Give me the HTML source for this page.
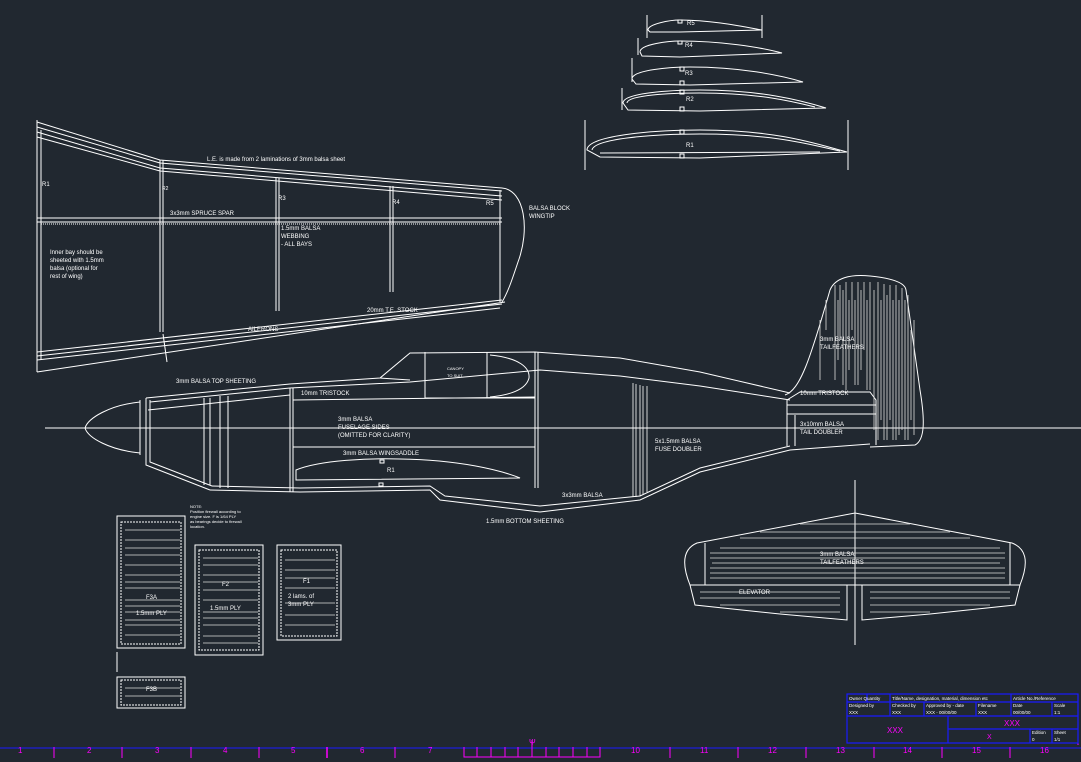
<!DOCTYPE html>
<html><head><meta charset="utf-8"><style>
html,body{margin:0;padding:0;background:#212830;}
svg{display:block;}
text{font-family:"Liberation Sans",sans-serif;fill:#fff;font-size:6px;}
</style></head><body>
<svg width="1081" height="762" viewBox="0 0 1081 762" xmlns="http://www.w3.org/2000/svg">
<rect width="1081" height="762" fill="#212830"/>
<g stroke="#fff" stroke-width="1" fill="none">
<line x1="45" y1="428" x2="1081" y2="428"/>
<line x1="855" y1="480" x2="855" y2="645"/>
<line x1="585" y1="120" x2="585" y2="170"/><line x1="848" y1="120" x2="848" y2="170"/>
<path d="M587,150 C587,136 650,130 700,130 C780,130 820,145 847,152 L700,158 L600,157 Z"/>
<path d="M592,150 C594,139 650,134 700,134 C780,134 815,146 840,151"/>
<line x1="600" y1="153" x2="820" y2="152"/>
<rect x="680" y="130" width="4" height="4"/><rect x="680" y="154" width="4" height="4"/>
<line x1="622" y1="88" x2="622" y2="110"/>
<path d="M623,103 C623,93 670,90 700,90 C760,90 800,100 826,108 L700,111 L628,110 Z"/>
<path d="M627,103 C628,95 670,93 700,93 C760,93 795,102 815,107"/>
<rect x="680" y="90" width="4" height="4"/><rect x="680" y="107" width="4" height="4"/>
<line x1="632" y1="58" x2="632" y2="82"/>
<path d="M632,79 C632,70 670,67 690,67 C740,67 780,75 803,82 L690,85 L636,84 Z"/>
<rect x="680" y="67" width="4" height="4"/><rect x="680" y="81" width="4" height="4"/>
<line x1="638" y1="38" x2="638" y2="55"/>
<path d="M640,52 C640,44 670,41 680,41 C720,41 760,47 782,53 L680,57 L642,56 Z"/>
<rect x="678" y="41" width="4" height="3"/>
<line x1="647" y1="15" x2="647" y2="38"/><line x1="762" y1="15" x2="762" y2="38"/>
<path d="M648,30 C648,24 670,20 680,20 C710,20 740,26 762,30 L680,32 L650,32 Z"/>
<rect x="678" y="20" width="4" height="3"/>
<line x1="37" y1="120" x2="37" y2="372"/>
<line x1="41" y1="130" x2="41" y2="360"/>
<polyline points="37,122 160,160 502,188"/>
<polyline points="37,127 160,163 502,191"/>
<polyline points="37,132 160,168 502,196"/>
<polyline points="37,137 160,171 502,200"/>
<path d="M502,188 C525,190 530,230 518,262 C512,280 508,292 502,302"/>
<line x1="37" y1="218" x2="502" y2="218"/><line x1="37" y1="222" x2="502" y2="222"/>
<line x1="41" y1="224" x2="500" y2="224" stroke-dasharray="1,1"/>
<line x1="160" y1="160" x2="160" y2="332"/><line x1="163" y1="160" x2="163" y2="332"/>
<line x1="276" y1="178" x2="276" y2="311"/><line x1="279" y1="178" x2="279" y2="311"/>
<line x1="390" y1="186" x2="390" y2="292"/><line x1="393" y1="186" x2="393" y2="292"/>
<line x1="500" y1="190" x2="500" y2="302"/>
<line x1="37" y1="352" x2="502" y2="300"/>
<line x1="37" y1="356" x2="502" y2="304"/>
<line x1="37" y1="360" x2="500" y2="308"/>
<line x1="37" y1="372" x2="505" y2="302"/>
<line x1="163" y1="334" x2="167" y2="362"/>
<path d="M140,402 C110,405 88,418 85,428 C88,438 110,450 140,453"/>
<line x1="140" y1="400" x2="140" y2="455"/>
<polyline points="146,398 146,465 210,490"/>
<polyline points="150,400 150,462 212,486"/>
<polyline points="146,398 290,384 380,378 410,353 535,352 620,358 700,372 790,393"/>
<polyline points="150,402 290,388 410,382 540,370 620,376 700,386 790,400"/>
<polyline points="210,490 300,492 430,490 440,500 540,512 640,500 700,472 790,450 870,444"/>
<polyline points="212,486 300,488 430,486 445,496 540,506 640,496 700,468 790,446"/>
<line x1="148" y1="410" x2="290" y2="395"/>
<line x1="210" y1="398" x2="210" y2="485"/><line x1="204" y1="398" x2="204" y2="485"/>
<line x1="220" y1="396" x2="220" y2="488"/><line x1="228" y1="396" x2="228" y2="488"/>
<line x1="290" y1="388" x2="290" y2="492"/><line x1="293" y1="388" x2="293" y2="492"/>
<line x1="293" y1="400" x2="535" y2="397"/>
<line x1="293" y1="447" x2="535" y2="447"/>
<path d="M296,470 C320,460 370,458 400,459 C460,460 500,470 520,478 L296,480 Z"/>
<rect x="380" y="460" width="4" height="3"/><rect x="379" y="483" width="4" height="3"/>
<line x1="535" y1="352" x2="535" y2="488"/><line x1="538" y1="352" x2="538" y2="488"/>
<line x1="425" y1="352" x2="425" y2="398"/><line x1="487" y1="352" x2="487" y2="398"/>
<path d="M490,355 C520,358 530,368 529,378 C526,390 510,395 490,397"/>
<line x1="425" y1="398" x2="535" y2="398"/>
<line x1="380" y1="378" x2="410" y2="380"/>
<g stroke-width="0.8"><line x1="633" y1="383" x2="633" y2="497"/><line x1="636" y1="384" x2="636" y2="497"/><line x1="640" y1="385" x2="640" y2="496"/><line x1="643" y1="386" x2="643" y2="494"/><line x1="647" y1="386" x2="647" y2="492"/></g>
<path d="M785,395 C800,390 810,360 830,290 C835,278 850,274 870,276 C890,278 905,282 906,290 L920,390 C925,420 925,440 915,445 L870,447"/>
<polyline points="787,400 800,392 870,392 876,400 876,445"/>
<line x1="787" y1="405" x2="876" y2="405"/><line x1="787" y1="414" x2="876" y2="414"/>
<line x1="787" y1="400" x2="787" y2="446"/><line x1="795" y1="415" x2="795" y2="446"/>
<g stroke="#ddd" stroke-width="0.8">
<line x1="835" y1="285" x2="835" y2="380"/><line x1="838" y1="300" x2="838" y2="360"/><line x1="840" y1="285" x2="840" y2="340"/><line x1="843" y1="290" x2="843" y2="385"/><line x1="846" y1="282" x2="846" y2="390"/><line x1="849" y1="300" x2="849" y2="370"/><line x1="852" y1="282" x2="852" y2="330"/><line x1="855" y1="300" x2="855" y2="385"/><line x1="858" y1="282" x2="858" y2="385"/><line x1="861" y1="290" x2="861" y2="370"/><line x1="864" y1="282" x2="864" y2="350"/><line x1="867" y1="300" x2="867" y2="390"/><line x1="870" y1="282" x2="870" y2="390"/><line x1="874" y1="290" x2="874" y2="430"/><line x1="878" y1="282" x2="878" y2="440"/><line x1="881" y1="300" x2="881" y2="420"/><line x1="884" y1="284" x2="884" y2="440"/><line x1="887" y1="295" x2="887" y2="440"/><line x1="890" y1="285" x2="890" y2="420"/><line x1="893" y1="300" x2="893" y2="440"/><line x1="896" y1="285" x2="896" y2="440"/><line x1="899" y1="300" x2="899" y2="435"/><line x1="902" y1="288" x2="902" y2="430"/><line x1="905" y1="300" x2="905" y2="440"/><line x1="908" y1="295" x2="908" y2="440"/><line x1="911" y1="330" x2="911" y2="420"/><line x1="914" y1="320" x2="914" y2="435"/><line x1="826" y1="300" x2="826" y2="330"/><line x1="820" y1="320" x2="820" y2="380"/>
</g>
<path d="M697,543 L855,513 L1012,543 C1025,548 1030,560 1020,585 L690,585 C680,560 685,548 697,543 Z"/>
<line x1="705" y1="543" x2="705" y2="585"/><line x1="1010" y1="543" x2="1010" y2="585"/>
<path d="M690,585 L695,605 L780,614 L847,620 L847,585"/>
<path d="M1020,585 L1015,605 L930,614 L862,620 L862,585"/>
<g stroke="#ddd" stroke-width="0.8">
<line x1="720" y1="548" x2="1000" y2="548"/><line x1="710" y1="553" x2="1005" y2="553"/><line x1="710" y1="558" x2="1005" y2="558"/><line x1="712" y1="563" x2="1000" y2="563"/><line x1="710" y1="568" x2="1005" y2="568"/><line x1="710" y1="573" x2="1005" y2="573"/><line x1="710" y1="578" x2="1005" y2="578"/><line x1="740" y1="538" x2="970" y2="538"/><line x1="760" y1="532" x2="950" y2="532"/><line x1="800" y1="524" x2="910" y2="524"/><line x1="700" y1="592" x2="840" y2="592"/><line x1="870" y1="592" x2="1010" y2="592"/><line x1="700" y1="598" x2="840" y2="598"/><line x1="870" y1="598" x2="1010" y2="598"/><line x1="720" y1="605" x2="840" y2="605"/><line x1="870" y1="605" x2="990" y2="605"/><line x1="780" y1="612" x2="840" y2="612"/><line x1="870" y1="612" x2="930" y2="612"/>
</g>
<rect x="117" y="516" width="68" height="132"/><rect x="121" y="522" width="60" height="122" stroke-dasharray="2,1"/>
<rect x="195" y="545" width="68" height="110"/><rect x="199" y="550" width="60" height="100" stroke-dasharray="2,1"/>
<rect x="277" y="545" width="64" height="95"/><rect x="281" y="550" width="56" height="86" stroke-dasharray="2,1"/>
<rect x="117" y="677" width="68" height="31"/><rect x="121" y="680" width="60" height="25" stroke-dasharray="2,1"/>
<line x1="117" y1="652" x2="117" y2="672"/>
<g stroke="#ddd" stroke-width="0.8">
<line x1="125" y1="530" x2="180" y2="530"/><line x1="125" y1="540" x2="180" y2="540"/><line x1="125" y1="548" x2="180" y2="548"/><line x1="125" y1="555" x2="180" y2="555"/><line x1="125" y1="565" x2="180" y2="565"/><line x1="125" y1="575" x2="180" y2="575"/><line x1="125" y1="582" x2="180" y2="582"/><line x1="125" y1="588" x2="180" y2="588"/><line x1="125" y1="600" x2="180" y2="600"/><line x1="125" y1="606" x2="180" y2="606"/><line x1="125" y1="612" x2="180" y2="612"/><line x1="125" y1="620" x2="180" y2="620"/><line x1="125" y1="625" x2="180" y2="625"/><line x1="125" y1="635" x2="180" y2="635"/>
<line x1="203" y1="558" x2="258" y2="558"/><line x1="203" y1="565" x2="258" y2="565"/><line x1="203" y1="575" x2="258" y2="575"/><line x1="203" y1="582" x2="258" y2="582"/><line x1="203" y1="590" x2="258" y2="590"/><line x1="203" y1="600" x2="258" y2="600"/><line x1="203" y1="612" x2="258" y2="612"/><line x1="203" y1="618" x2="258" y2="618"/><line x1="203" y1="625" x2="258" y2="625"/><line x1="203" y1="636" x2="258" y2="636"/><line x1="203" y1="643" x2="258" y2="643"/>
<line x1="285" y1="560" x2="335" y2="560"/><line x1="285" y1="570" x2="335" y2="570"/><line x1="285" y1="578" x2="335" y2="578"/><line x1="285" y1="588" x2="335" y2="588"/><line x1="285" y1="603" x2="335" y2="603"/><line x1="285" y1="615" x2="335" y2="615"/><line x1="285" y1="625" x2="335" y2="625"/>
<line x1="125" y1="688" x2="180" y2="688"/><line x1="125" y1="696" x2="180" y2="696"/>
</g>
</g>
<line x1="0" y1="748" x2="1081" y2="748" stroke="#1a1aff" stroke-width="1"/>
<g stroke="#ff00ff" stroke-width="1">
<line x1="54" y1="747" x2="54" y2="758"/><line x1="122" y1="747" x2="122" y2="758"/><line x1="191" y1="747" x2="191" y2="758"/><line x1="259" y1="747" x2="259" y2="758"/><line x1="327" y1="747" x2="327" y2="758" stroke-width="1.5"/><line x1="395" y1="747" x2="395" y2="758"/><line x1="670" y1="747" x2="670" y2="758"/><line x1="738" y1="747" x2="738" y2="758"/><line x1="806" y1="747" x2="806" y2="758"/><line x1="874" y1="747" x2="874" y2="758"/><line x1="942" y1="747" x2="942" y2="758"/><line x1="1010" y1="747" x2="1010" y2="758"/>
<polyline points="464,747 464,757 600,757 600,747" fill="none"/>
<line x1="477" y1="747" x2="477" y2="757"/><line x1="491" y1="747" x2="491" y2="757"/><line x1="505" y1="747" x2="505" y2="757"/><line x1="518" y1="747" x2="518" y2="757"/><line x1="532" y1="740" x2="532" y2="757"/><line x1="546" y1="747" x2="546" y2="757"/><line x1="559" y1="747" x2="559" y2="757"/><line x1="573" y1="747" x2="573" y2="757"/><line x1="587" y1="747" x2="587" y2="757"/>
<line x1="1078" y1="735" x2="1078" y2="745"/>
</g>
<g>
<text x="18" y="753" style="fill:#ff00ff;font-size:8px">1</text><text x="87" y="753" style="fill:#ff00ff;font-size:8px">2</text><text x="155" y="753" style="fill:#ff00ff;font-size:8px">3</text><text x="223" y="753" style="fill:#ff00ff;font-size:8px">4</text><text x="291" y="753" style="fill:#ff00ff;font-size:8px">5</text><text x="360" y="753" style="fill:#ff00ff;font-size:8px">6</text><text x="428" y="753" style="fill:#ff00ff;font-size:8px">7</text><text x="529" y="745" style="fill:#ff00ff;font-size:8px">Ψ</text><text x="631" y="753" style="fill:#ff00ff;font-size:8px">10</text><text x="700" y="753" style="fill:#ff00ff;font-size:8px">11</text><text x="768" y="753" style="fill:#ff00ff;font-size:8px">12</text><text x="836" y="753" style="fill:#ff00ff;font-size:8px">13</text><text x="903" y="753" style="fill:#ff00ff;font-size:8px">14</text><text x="972" y="753" style="fill:#ff00ff;font-size:8px">15</text><text x="1040" y="753" style="fill:#ff00ff;font-size:8px">16</text>
</g>
<g stroke="#1a1aff" stroke-width="1.2" fill="none">
<rect x="847" y="694" width="231" height="49"/>
<line x1="847" y1="702" x2="1078" y2="702"/><line x1="847" y1="716" x2="1078" y2="716"/>
<line x1="867" y1="694" x2="867" y2="702"/><line x1="890" y1="694" x2="890" y2="716"/><line x1="1011" y1="694" x2="1011" y2="716"/>
<line x1="924" y1="702" x2="924" y2="716"/><line x1="976" y1="702" x2="976" y2="716"/><line x1="1052" y1="702" x2="1052" y2="716"/>
<line x1="948" y1="716" x2="948" y2="743"/><line x1="948" y1="729" x2="1078" y2="729"/>
<line x1="1030" y1="729" x2="1030" y2="743"/><line x1="1052" y1="729" x2="1052" y2="743"/>
</g>
<g>
<text x="849" y="700" style="font-size:4.5px">Owner Quantity</text><text x="892" y="700" style="font-size:4.5px">Title/Name, designation, material, dimension etc</text><text x="1013" y="700" style="font-size:4.5px">Article No./Reference</text>
<text x="849" y="707" style="font-size:4.5px">Designed by</text><text x="849" y="714" style="font-size:4.5px">XXX</text>
<text x="892" y="707" style="font-size:4.5px">Checked by</text><text x="892" y="714" style="font-size:4.5px">XXX</text>
<text x="926" y="707" style="font-size:4.5px">Approved by - date</text><text x="926" y="714" style="font-size:4.5px">XXX - 00/00/00</text>
<text x="978" y="707" style="font-size:4.5px">Filename</text><text x="978" y="714" style="font-size:4.5px">XXX</text>
<text x="1013" y="707" style="font-size:4.5px">Date</text><text x="1013" y="714" style="font-size:4.5px">00/00/00</text>
<text x="1054" y="707" style="font-size:4.5px">Scale</text><text x="1054" y="714" style="font-size:4.5px">1:1</text>
<text x="1032" y="734" style="font-size:4.5px">Edition</text><text x="1032" y="741" style="font-size:4.5px">0</text>
<text x="1054" y="734" style="font-size:4.5px">Sheet</text><text x="1054" y="741" style="font-size:4.5px">1/1</text>
</g>
<text x="887" y="733" style="fill:#ff00ff;font-size:8px">XXX</text>
<text x="1004" y="726" style="fill:#ff00ff;font-size:8px">XXX</text>
<text x="987" y="739" style="fill:#ff00ff;font-size:7px">X</text>
<text x="686" y="147">R1</text><text x="686" y="101">R2</text><text x="685" y="75">R3</text><text x="685" y="47">R4</text><text x="687" y="25">R5</text>
<text x="207" y="161">L.E. is made from 2 laminations of 3mm balsa sheet</text>
<text x="42" y="186">R1</text><text x="162" y="190" style="font-size:5px">R2</text><text x="278" y="200">R3</text><text x="392" y="204">R4</text><text x="486" y="205">R5</text>
<text x="170" y="215">3x3mm SPRUCE SPAR</text>
<text x="281" y="230">1.5mm BALSA</text><text x="281" y="238">WEBBING</text><text x="281" y="246">- ALL BAYS</text>
<text x="50" y="254">Inner bay should be</text><text x="50" y="262">sheeted with 1.5mm</text><text x="50" y="270">balsa (optional for</text><text x="50" y="278">rest of wing)</text>
<text x="367" y="312">20mm T.E. STOCK</text><text x="248" y="331">AILERONS</text>
<text x="529" y="210">BALSA BLOCK</text><text x="529" y="218">WINGTIP</text>
<text x="447" y="370" style="font-size:4px">CANOPY</text><text x="447" y="377" style="font-size:4px">TO SUIT</text>
<text x="176" y="383">3mm BALSA TOP SHEETING</text><text x="301" y="395">10mm TRISTOCK</text>
<text x="338" y="421">3mm BALSA</text><text x="338" y="429">FUSELAGE SIDES</text><text x="338" y="437">(OMITTED FOR CLARITY)</text>
<text x="343" y="455">3mm BALSA WINGSADDLE</text><text x="387" y="472">R1</text>
<text x="562" y="497">3x3mm BALSA</text><text x="486" y="523">1.5mm BOTTOM SHEETING</text>
<text x="655" y="443">5x1.5mm BALSA</text><text x="655" y="451">FUSE DOUBLER</text>
<text x="800" y="395">10mm TRISTOCK</text>
<text x="800" y="426">3x10mm BALSA</text><text x="800" y="434">TAIL DOUBLER</text>
<text x="820" y="341">3mm BALSA</text><text x="820" y="349">TAILFEATHERS</text>
<text x="820" y="556">3mm BALSA</text><text x="820" y="564">TAILFEATHERS</text><text x="739" y="594">ELEVATOR</text>
<g><text x="190" y="508" style="font-size:4px">NOTE:</text><text x="190" y="513" style="font-size:4px">Position firewall according to</text><text x="190" y="518" style="font-size:4px">engine size. F is 1/64 PLY</text><text x="190" y="523" style="font-size:4px">as bearings decide to firewall</text><text x="190" y="528" style="font-size:4px">location.</text></g>
<text x="146" y="599">F3A</text><text x="136" y="615">1.5mm PLY</text>
<text x="222" y="586">F2</text><text x="210" y="610">1.5mm PLY</text>
<text x="303" y="583">F1</text><text x="288" y="598">2 lams. of</text><text x="288" y="606">3mm PLY</text>
<text x="146" y="691">F3B</text>
</svg>
</body></html>
